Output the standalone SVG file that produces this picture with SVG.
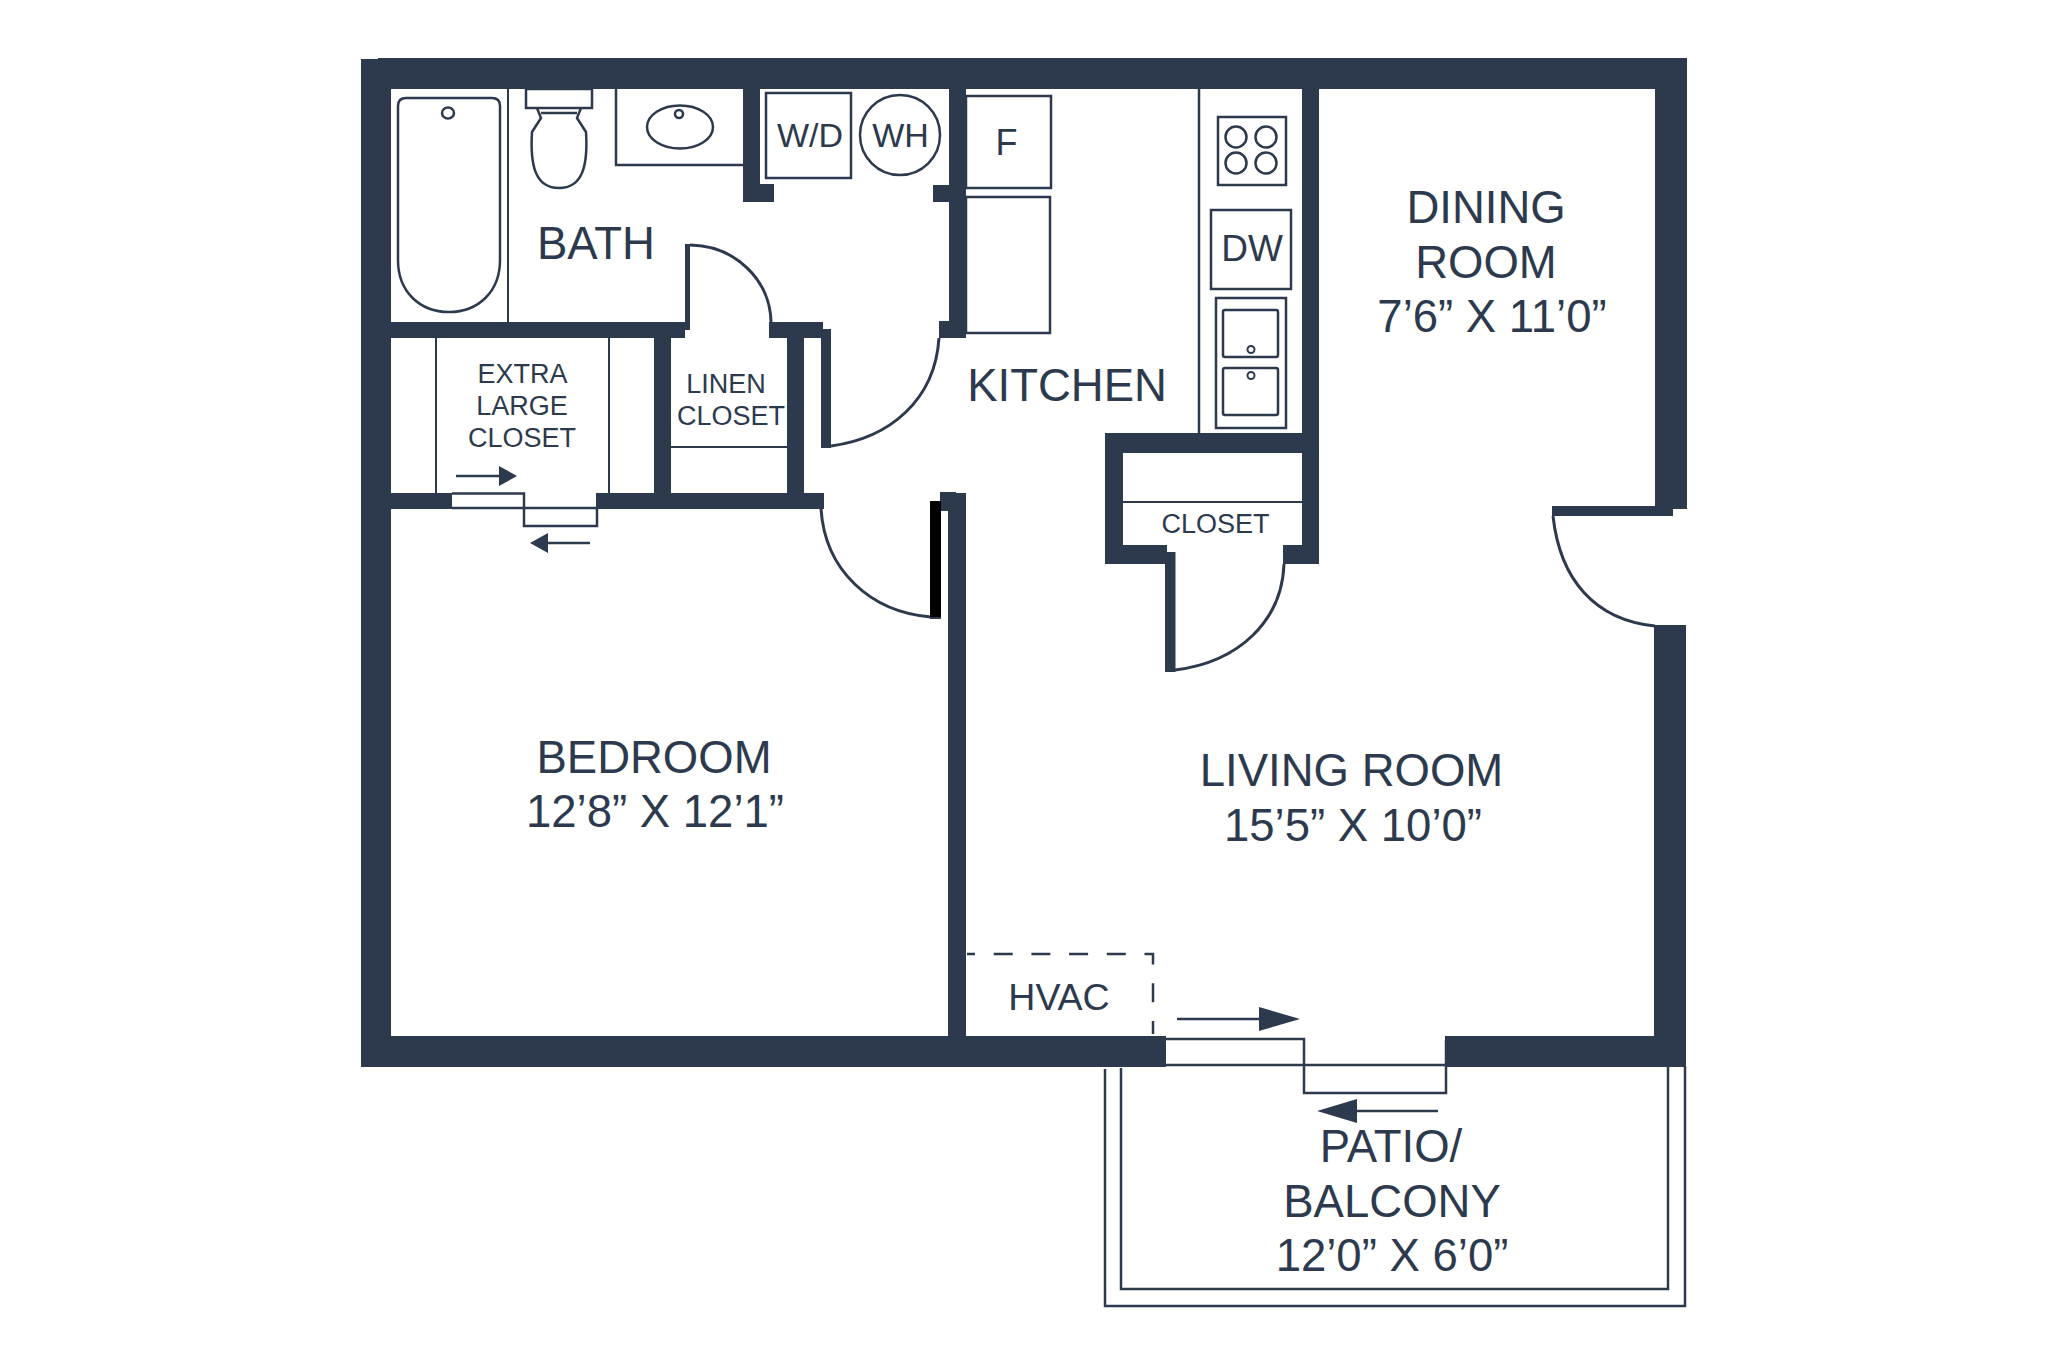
<svg xmlns="http://www.w3.org/2000/svg" width="2048" height="1365" viewBox="0 0 2048 1365">
<style>
.w{fill:#2d3a4d}
.l{fill:none;stroke:#2d3a4d;stroke-width:2}
.m{fill:none;stroke:#2d3a4d;stroke-width:2.5}
.a{fill:none;stroke:#2d3a4d;stroke-width:3}
.t{fill:#2d3a4d;font-family:"Liberation Sans",Arial,sans-serif;text-anchor:middle}
.s{font-size:27px}.f{font-size:34px}.r{font-size:45.5px}
</style>
<rect width="2048" height="1365" fill="#fff"/>
<g id="walls">
<rect class="w" x="378" y="58" width="1309" height="31"/>
<rect class="w" x="361" y="59" width="30" height="1008"/>
<rect class="w" x="361" y="1036" width="805" height="31"/>
<rect class="w" x="1445" y="1036" width="241" height="31"/>
<rect class="w" x="1655" y="58" width="32" height="451"/>
<rect class="w" x="1552" y="506" width="121" height="10"/>
<rect class="w" x="1654" y="625" width="32" height="442"/>
<rect class="w" x="743" y="89" width="17" height="113"/>
<rect class="w" x="743" y="184" width="31" height="18"/>
<rect class="w" x="949" y="89" width="17" height="249"/>
<rect class="w" x="933" y="185" width="16" height="17"/>
<rect class="w" x="939" y="321" width="27" height="17"/>
<rect class="w" x="391" y="322" width="294" height="16"/>
<rect class="w" x="769" y="322" width="54" height="16"/>
<rect class="w" x="654" y="338" width="17" height="156"/>
<rect class="w" x="787" y="338" width="17" height="156"/>
<rect class="w" x="391" y="493" width="61" height="16"/>
<rect class="w" x="596" y="493" width="228" height="16"/>
<rect class="w" x="948" y="493" width="18" height="543"/>
<rect class="w" x="940" y="492" width="16" height="19"/>
<rect class="w" x="1105" y="433" width="214" height="20"/>
<rect class="w" x="1105" y="433" width="18" height="131"/>
<rect class="w" x="1105" y="545" width="62" height="19"/>
<rect class="w" x="1302" y="89" width="17" height="475"/>
<rect class="w" x="1283" y="545" width="36" height="19"/>
</g>
<g id="doors">
<rect class="w" x="685" y="244" width="5" height="86"/>
<path class="a" d="M690 245A82 78 0 0 1 771 322"/>
<rect class="w" x="821" y="329" width="10" height="119"/>
<path class="a" d="M831 446C890 438 935 400 939 338"/>
<path class="a" d="M821 509C825 570 870 612 931 617"/>
<rect x="930" y="501" width="11" height="116" fill="#000"/>
<rect class="w" x="930" y="617" width="11" height="2"/>
<rect class="w" x="1165" y="552" width="10.500" height="120"/>
<path class="a" d="M1175 670C1240 662 1282 620 1284 564"/>
<path class="a" d="M1553 516C1560 580 1595 620 1655 626"/>
<path class="m" d="M452 493.500H524V526H597V508M452 508H597"/>
<path class="m" d="M1166 1039H1304V1093H1446V1040M1166 1065H1445"/>
</g>
<g id="arrows">
<path class="m" d="M456 476H500M590 543H548M1177 1019H1260M1438 1111H1356"/>
<path class="w" d="M499 466L517 476L499 486ZM530 543L548 533V553ZM1259 1007L1300 1019L1259 1031ZM1317 1111L1357 1099V1123Z"/>
</g>
<g id="bath">
<path class="m" d="M398 106Q398 98 406 98H492Q500 98 500 106V260C500 292 478 312 449 312C420 312 398 292 398 260Z"/>
<ellipse class="m" cx="448" cy="113" rx="6" ry="5.500"/>
<path class="l" d="M508 89V322"/>
<rect class="m" x="526" y="89" width="66" height="19"/>
<path class="m" d="M537 108L541 118L532 132C530 165 535 188 559 188C583 188 588 165 586 132L577 118L581 108M541 113H577"/>
<path class="m" d="M616 89V165H743"/>
<ellipse class="m" cx="680" cy="127" rx="33" ry="21.500"/>
<circle class="m" cx="679" cy="114" r="4"/>
</g>
<g id="laundry">
<rect class="m" x="766" y="93" width="85" height="85"/>
<circle class="m" cx="900" cy="135" r="40"/>
</g>
<g id="closets">
<path class="l" d="M436 338V493M609 338V493M671 447H787M1123 502H1302"/>
</g>
<g id="kitchen">
<rect class="m" x="966" y="96" width="85" height="92"/>
<rect class="m" x="966" y="197" width="84" height="136"/>
<path class="m" d="M1199 89V433"/>
<rect class="m" x="1218" y="117" width="68" height="68"/>
<circle class="m" cx="1236" cy="137" r="10.500"/>
<circle class="m" cx="1266" cy="137" r="10.500"/>
<circle class="m" cx="1236" cy="163" r="10.500"/>
<circle class="m" cx="1266" cy="163" r="10.500"/>
<rect class="m" x="1211" y="210" width="80" height="79"/>
<rect class="m" x="1216" y="298" width="70" height="130"/>
<rect class="m" x="1223" y="310" width="55" height="47" rx="2"/>
<rect class="m" x="1223" y="368" width="55" height="47" rx="2"/>
<circle class="l" cx="1251" cy="349.500" r="3.500"/>
<circle class="l" cx="1251" cy="375.500" r="3.500"/>
</g>
<g id="hvac">
<path class="m" d="M967 954H1153V1034" stroke-dasharray="19 18.700" stroke-dashoffset="11"/>
</g>
<g id="balcony">
<path class="m" d="M1121 1068V1289H1668V1066M1105 1069V1306H1685V1066"/>
</g>
<g id="labels">
<text class="t r" x="596" y="259">BATH</text>
<text class="t f" x="810" y="147">W/D</text>
<text class="t f" x="900.500" y="147">WH</text>
<text class="t" x="1006.500" y="155" style="font-size:36px">F</text>
<text class="t" x="1252" y="261" style="font-size:37px">DW</text>
<text class="t r" x="1067" y="401">KITCHEN</text>
<text class="t s" x="522.500" y="383">EXTRA</text>
<text class="t s" x="522" y="415">LARGE</text>
<text class="t s" x="522" y="447">CLOSET</text>
<text class="t s" x="726" y="393">LINEN</text>
<text class="t s" x="731" y="425">CLOSET</text>
<text class="t s" x="1215.500" y="533">CLOSET</text>
<text class="t r" x="1486" y="223">DINING</text>
<text class="t r" x="1486" y="278">ROOM</text>
<text class="t r" x="1492" y="332">7’6” X 11’0”</text>
<text class="t r" x="654" y="773">BEDROOM</text>
<text class="t r" x="655" y="827">12’8” X 12’1”</text>
<text class="t r" x="1351.500" y="786">LIVING ROOM</text>
<text class="t r" x="1353" y="841">15’5” X 10’0”</text>
<text class="t" x="1059" y="1010" style="font-size:37.500px">HVAC</text>
<text class="t r" x="1391" y="1162">PATIO/</text>
<text class="t r" x="1392" y="1217">BALCONY</text>
<text class="t r" x="1392" y="1271">12’0” X 6’0”</text>
</g>
</svg>
